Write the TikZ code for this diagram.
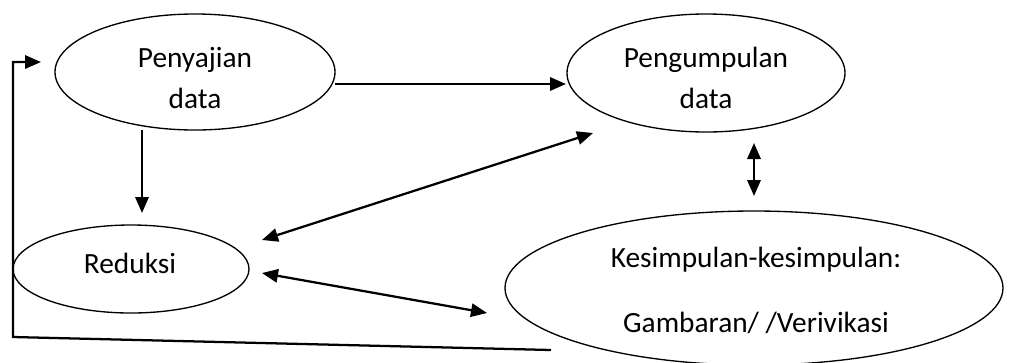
\documentclass[tikz,border=0pt]{standalone}
\usepackage{fontspec}
\setmainfont{Carlito}
\usetikzlibrary{shapes.geometric,arrows.meta}
\begin{document}
\begin{tikzpicture}[x=0.75pt,y=-0.75pt,
  ell/.style={draw, ellipse, line width=1pt, inner sep=0pt},
  txt/.style={font=\fontsize{22}{26}\selectfont, anchor=base, inner sep=0pt},
  tip/.style={line width=1.7pt, -{Triangle[length=12pt,width=10pt]}},
  dtip/.style={line width=1.7pt, {Triangle[length=12pt,width=10pt]}-{Triangle[length=12pt,width=10pt]}}]
\useasboundingbox (0,0) rectangle (1024,362);
% ellipses
\node[ell, minimum width=280*0.75pt, minimum height=116*0.75pt] (pen) at (195,72) {};
\node[ell, minimum width=278*0.75pt, minimum height=118*0.75pt] (pgm) at (706,73) {};
\node[ell, minimum width=236*0.75pt, minimum height=88*0.75pt] (red) at (131,269) {};
\node[ell, minimum width=498*0.75pt, minimum height=154*0.75pt] (kes) at (754,288) {};
% texts
\node[txt] (tpen1) at (195,67) {Penyajian};
\node[txt] (tpen2) at (195,108) {data};
\node[txt] (tpgm1) at (706,67) {Pengumpulan};
\node[txt] (tpgm2) at (706,108) {data};
\node[txt] (tred) at (130,273) {Reduksi};
\node[txt] (tkes1) at (756,267) {Kesimpulan-kesimpulan:};
\node[txt] (tkes2) at (756,332) {Gambaran/ /Verivikasi};
% coordinates
\coordinate (a1) at (335,84);
\coordinate (a2) at (566,84);
\coordinate (b1) at (142,130);
\coordinate (b2) at (142,213);
\coordinate (c1) at (262,240);
\coordinate (c2) at (593,133);
\coordinate (d1) at (262,273);
\coordinate (d2) at (487,313);
\coordinate (e1) at (754,143);
\coordinate (e2) at (754,196);
\coordinate (f0) at (551,350);
\coordinate (f1) at (13,337);
\coordinate (f2) at (13,62);
\coordinate (f3) at (41,62);
% connectors
\draw[tip] (a1) -- (a2);
\draw[tip] (b1) -- (b2);
\draw[dtip] (c1) -- (c2);
\draw[dtip] (d1) -- (d2);
\draw[dtip] (e1) -- (e2);
\draw[tip] (f0) -- (f1) -- (f2) -- (f3);
\end{tikzpicture}
\end{document}
